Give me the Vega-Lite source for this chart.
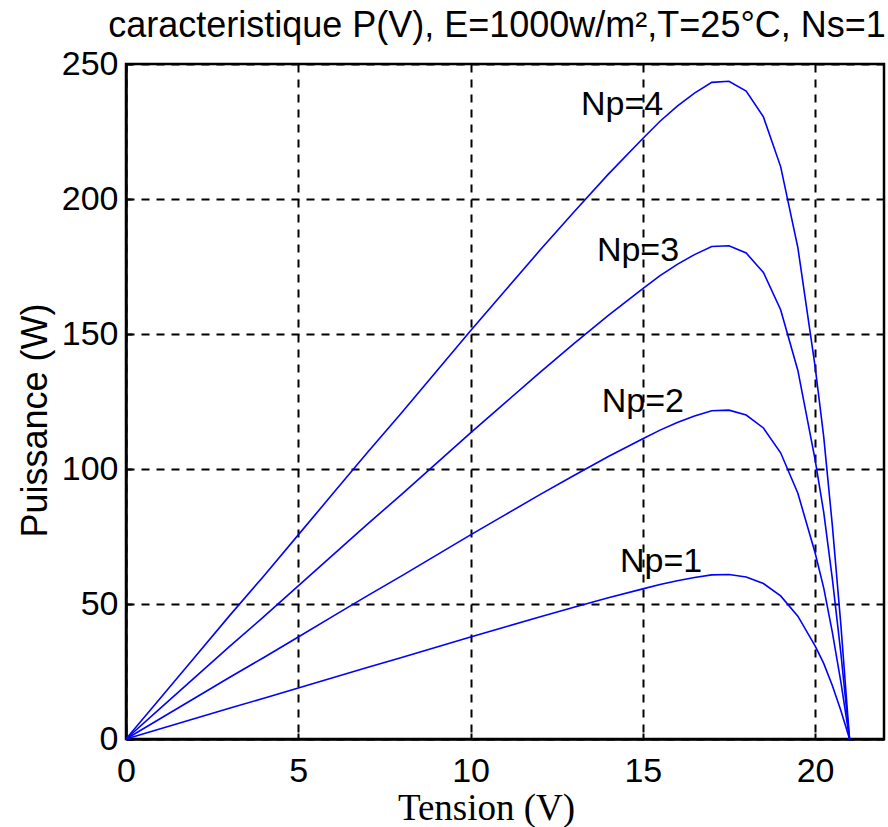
{
  "$schema": "https://vega.github.io/schema/vega-lite/v6.json",
  "width": 758,
  "height": 675,
  "autosize": {"type": "none"},
  "padding": {"left": 126, "top": 64, "right": 4, "bottom": 88},
  "background": "white",
  "config": {"view": {"stroke": "black", "strokeWidth": 2.5}},
  "title": {"text": "caracteristique P(V), E=1000w/m²,T=25°C, Ns=1", "font": "Liberation Sans", "fontSize": 36, "fontWeight": "normal", "color": "black", "anchor": "middle", "offset": 2, "dx": -8},
  "datasets": {
    "curves": [
      {"Np": 1, "V": 0, "P": 0}, {"Np": 1, "V": 1, "P": 3.8}, {"Np": 1, "V": 2, "P": 7.6}, {"Np": 1, "V": 3, "P": 11.4}, {"Np": 1, "V": 4, "P": 15.1}, {"Np": 1, "V": 5, "P": 18.9}, {"Np": 1, "V": 6, "P": 22.7}, {"Np": 1, "V": 7, "P": 26.5}, {"Np": 1, "V": 8, "P": 30.2}, {"Np": 1, "V": 9, "P": 34.0}, {"Np": 1, "V": 10, "P": 37.8}, {"Np": 1, "V": 11, "P": 41.5}, {"Np": 1, "V": 12, "P": 45.2}, {"Np": 1, "V": 13, "P": 48.8}, {"Np": 1, "V": 14, "P": 52.3}, {"Np": 1, "V": 15, "P": 55.6}, {"Np": 1, "V": 15.5, "P": 57.2}, {"Np": 1, "V": 16, "P": 58.6}, {"Np": 1, "V": 16.5, "P": 59.8}, {"Np": 1, "V": 17, "P": 60.8}, {"Np": 1, "V": 17.5, "P": 60.9}, {"Np": 1, "V": 18, "P": 60.0}, {"Np": 1, "V": 18.5, "P": 57.6}, {"Np": 1, "V": 19, "P": 53.0}, {"Np": 1, "V": 19.5, "P": 45.5}, {"Np": 1, "V": 20, "P": 34.5}, {"Np": 1, "V": 20.25, "P": 28.0}, {"Np": 1, "V": 20.5, "P": 19.8}, {"Np": 1, "V": 20.75, "P": 10.5}, {"Np": 1, "V": 21, "P": 0},
      {"Np": 2, "V": 0, "P": 0}, {"Np": 2, "V": 1, "P": 7.6}, {"Np": 2, "V": 2, "P": 15.2}, {"Np": 2, "V": 3, "P": 22.8}, {"Np": 2, "V": 4, "P": 30.2}, {"Np": 2, "V": 5, "P": 37.8}, {"Np": 2, "V": 6, "P": 45.4}, {"Np": 2, "V": 7, "P": 53.0}, {"Np": 2, "V": 8, "P": 60.4}, {"Np": 2, "V": 9, "P": 68.0}, {"Np": 2, "V": 10, "P": 75.6}, {"Np": 2, "V": 11, "P": 83.0}, {"Np": 2, "V": 12, "P": 90.4}, {"Np": 2, "V": 13, "P": 97.6}, {"Np": 2, "V": 14, "P": 104.6}, {"Np": 2, "V": 15, "P": 111.2}, {"Np": 2, "V": 15.5, "P": 114.4}, {"Np": 2, "V": 16, "P": 117.2}, {"Np": 2, "V": 16.5, "P": 119.6}, {"Np": 2, "V": 17, "P": 121.6}, {"Np": 2, "V": 17.5, "P": 121.8}, {"Np": 2, "V": 18, "P": 120.0}, {"Np": 2, "V": 18.5, "P": 115.2}, {"Np": 2, "V": 19, "P": 106.0}, {"Np": 2, "V": 19.5, "P": 91.0}, {"Np": 2, "V": 20, "P": 69.0}, {"Np": 2, "V": 20.25, "P": 56.0}, {"Np": 2, "V": 20.5, "P": 39.6}, {"Np": 2, "V": 20.75, "P": 21.0}, {"Np": 2, "V": 21, "P": 0},
      {"Np": 3, "V": 0, "P": 0}, {"Np": 3, "V": 1, "P": 11.4}, {"Np": 3, "V": 2, "P": 22.8}, {"Np": 3, "V": 3, "P": 34.2}, {"Np": 3, "V": 4, "P": 45.3}, {"Np": 3, "V": 5, "P": 56.7}, {"Np": 3, "V": 6, "P": 68.1}, {"Np": 3, "V": 7, "P": 79.5}, {"Np": 3, "V": 8, "P": 90.6}, {"Np": 3, "V": 9, "P": 102.0}, {"Np": 3, "V": 10, "P": 113.4}, {"Np": 3, "V": 11, "P": 124.5}, {"Np": 3, "V": 12, "P": 135.6}, {"Np": 3, "V": 13, "P": 146.4}, {"Np": 3, "V": 14, "P": 156.9}, {"Np": 3, "V": 15, "P": 166.8}, {"Np": 3, "V": 15.5, "P": 171.6}, {"Np": 3, "V": 16, "P": 175.8}, {"Np": 3, "V": 16.5, "P": 179.4}, {"Np": 3, "V": 17, "P": 182.4}, {"Np": 3, "V": 17.5, "P": 182.7}, {"Np": 3, "V": 18, "P": 180.0}, {"Np": 3, "V": 18.5, "P": 172.8}, {"Np": 3, "V": 19, "P": 159.0}, {"Np": 3, "V": 19.5, "P": 136.5}, {"Np": 3, "V": 20, "P": 103.5}, {"Np": 3, "V": 20.25, "P": 84.0}, {"Np": 3, "V": 20.5, "P": 59.4}, {"Np": 3, "V": 20.75, "P": 31.5}, {"Np": 3, "V": 21, "P": 0},
      {"Np": 4, "V": 0, "P": 0}, {"Np": 4, "V": 1, "P": 15.2}, {"Np": 4, "V": 2, "P": 30.4}, {"Np": 4, "V": 3, "P": 45.6}, {"Np": 4, "V": 4, "P": 60.4}, {"Np": 4, "V": 5, "P": 75.6}, {"Np": 4, "V": 6, "P": 90.8}, {"Np": 4, "V": 7, "P": 106.0}, {"Np": 4, "V": 8, "P": 120.8}, {"Np": 4, "V": 9, "P": 136.0}, {"Np": 4, "V": 10, "P": 151.2}, {"Np": 4, "V": 11, "P": 166.0}, {"Np": 4, "V": 12, "P": 180.8}, {"Np": 4, "V": 13, "P": 195.2}, {"Np": 4, "V": 14, "P": 209.2}, {"Np": 4, "V": 15, "P": 222.4}, {"Np": 4, "V": 15.5, "P": 228.8}, {"Np": 4, "V": 16, "P": 234.4}, {"Np": 4, "V": 16.5, "P": 239.2}, {"Np": 4, "V": 17, "P": 243.2}, {"Np": 4, "V": 17.5, "P": 243.6}, {"Np": 4, "V": 18, "P": 240.0}, {"Np": 4, "V": 18.5, "P": 230.4}, {"Np": 4, "V": 19, "P": 212.0}, {"Np": 4, "V": 19.5, "P": 182.0}, {"Np": 4, "V": 20, "P": 138.0}, {"Np": 4, "V": 20.25, "P": 112.0}, {"Np": 4, "V": 20.5, "P": 79.2}, {"Np": 4, "V": 20.75, "P": 42.0}, {"Np": 4, "V": 21, "P": 0}
    ],
    "labels": [
      {"label": "Np=4", "V": 14.4, "P": 231},
      {"label": "Np=3", "V": 14.86, "P": 177},
      {"label": "Np=2", "V": 15.0, "P": 121},
      {"label": "Np=1", "V": 15.53, "P": 62}
    ]
  },
  "layer": [
    {
      "data": {"name": "curves"},
      "mark": {"type": "line", "color": "#0000ff", "strokeWidth": 1.6},
      "encoding": {
        "x": {"field": "V", "type": "quantitative", "scale": {"domain": [0, 22], "nice": false},
          "axis": {"title": "Tension (V)", "titleFont": "Liberation Serif", "titleFontSize": 37, "titleFontWeight": "normal", "titleColor": "black", "titleX": 360, "titleY": 80, "titleBaseline": "alphabetic", "titleAlign": "center",
            "values": [0, 5, 10, 15, 20], "labelFont": "Liberation Sans", "labelFontSize": 34, "labelColor": "black", "labelPadding": 21, "labelFlush": false,
            "grid": true, "gridColor": "black", "gridDash": [8, 7], "gridWidth": 2, "gridOpacity": 1,
            "domainColor": "black", "domainWidth": 2.5, "ticks": true, "tickSize": -6, "tickColor": "black", "tickWidth": 2}},
        "y": {"field": "P", "type": "quantitative", "scale": {"domain": [0, 250], "nice": false},
          "axis": {"title": "Puissance (W)", "titleFont": "Liberation Sans", "titleFontSize": 36, "titleFontWeight": "normal", "titleColor": "black", "titleX": -80, "titleY": 356, "titleBaseline": "alphabetic", "titleAlign": "center", "titleAngle": -90,
            "values": [0, 50, 100, 150, 200, 250], "labelFont": "Liberation Sans", "labelFontSize": 34, "labelColor": "black", "labelPadding": 14, "labelFlush": false,
            "grid": true, "gridColor": "black", "gridDash": [8, 7], "gridWidth": 2, "gridOpacity": 1,
            "domainColor": "black", "domainWidth": 2.5, "ticks": true, "tickSize": -6, "tickColor": "black", "tickWidth": 2}},
        "detail": {"field": "Np", "type": "nominal"}
      }
    },
    {
      "data": {"name": "labels"},
      "mark": {"type": "text", "font": "Liberation Sans", "fontSize": 34, "align": "center", "baseline": "alphabetic", "color": "black"},
      "encoding": {
        "x": {"field": "V", "type": "quantitative"},
        "y": {"field": "P", "type": "quantitative"},
        "text": {"field": "label"}
      }
    }
  ]
}
